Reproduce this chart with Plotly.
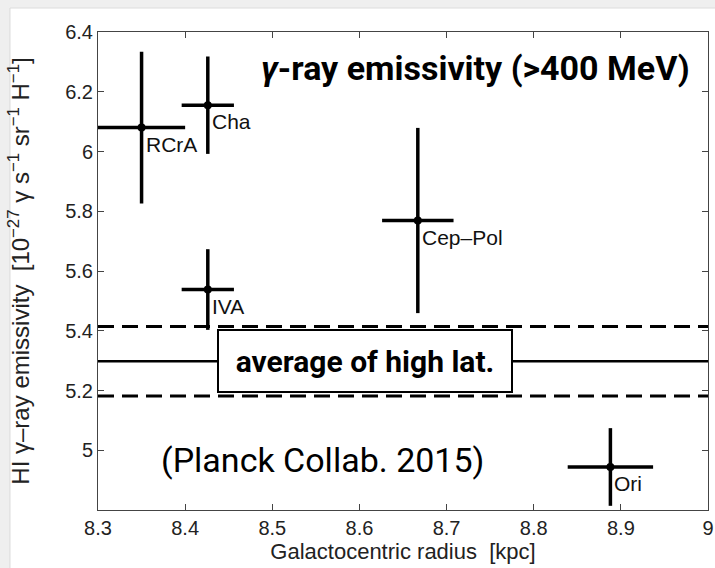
import plotly.graph_objects as go

# data
regions = ["RCrA", "Cha", "IVA", "Cep\u2013Pol", "Ori"]
radius = [8.35, 8.426, 8.426, 8.667, 8.888]
radius_err = [0.05, 0.03, 0.03, 0.041, 0.049]
emissivity = [6.08, 6.155, 5.538, 5.769, 4.944]
emissivity_err = [0.254, 0.163, 0.135, 0.31, 0.13]
avg_high_lat = 5.298
avg_high_lat_err = 0.116
x_range = [8.3, 9.0]
y_range = [4.8, 6.4]
x_ticks = [8.3, 8.4, 8.5, 8.6, 8.7, 8.8, 8.9, 9.0]
x_ticklabels = ["8.3", "8.4", "8.5", "8.6", "8.7", "8.8", "8.9", "9"]
y_ticks = [5.0, 5.2, 5.4, 5.6, 5.8, 6.0, 6.2, 6.4]
y_ticklabels = ["5", "5.2", "5.4", "5.6", "5.8", "6", "6.2", "6.4"]

fig = go.Figure()

# average lines
fig.add_trace(go.Scatter(x=x_range, y=[avg_high_lat] * 2, mode="lines",
                         line=dict(color="black", width=2.5), showlegend=False, hoverinfo="skip"))
for s in (1, -1):
    fig.add_trace(go.Scatter(x=x_range, y=[avg_high_lat + s * avg_high_lat_err] * 2, mode="lines",
                             line=dict(color="black", width=3, dash="16px,8px"), showlegend=False,
                             hoverinfo="skip"))

fig.add_trace(go.Scatter(
    x=radius, y=emissivity, mode="markers",
    marker=dict(color="black", size=8),
    error_x=dict(type="data", array=radius_err, color="black", thickness=3.5, width=0),
    error_y=dict(type="data", array=emissivity_err, color="black", thickness=3.5, width=0),
    showlegend=False,
))

label_font = dict(family="Liberation Sans, Arial", size=21, color="#111")
for name, x, y in zip(regions, radius, emissivity):
    fig.add_annotation(x=x, y=y, text=name, showarrow=False, xanchor="left", yanchor="top",
                       xshift=2, yshift=-3, font=label_font)

fig.add_annotation(x=8.606, y=avg_high_lat, text="<b>average of high lat.</b>", showarrow=False,
                   font=dict(family="Roboto", size=30, color="black"),
                   bgcolor="white", bordercolor="black", borderwidth=2, width=290, height=58,
                   xanchor="center", yanchor="middle")

fig.add_annotation(xref="paper", yref="paper", x=0.974, y=0.925, xanchor="right", yanchor="middle",
                   text="<b><i>\u03b3</i>-ray emissivity (>400 MeV)</b>", showarrow=False,
                   font=dict(family="Roboto", size=34, color="black"))

fig.add_annotation(xref="paper", yref="paper", x=0.1, y=0.105, xanchor="left", yanchor="middle",
                   text="(Planck Collab. 2015)", showarrow=False,
                   font=dict(family="Roboto", size=34, color="black"))

# light shadow around the slide (grey paper, white panel)
fig.add_shape(type="rect", xref="paper", yref="paper", x0=-0.1443, x1=1.03, y0=-0.15, y1=1.0502,
              fillcolor="white", line=dict(width=1, color="#dcdcdc"), layer="below")

axis_common = dict(showgrid=False, zeroline=False, showline=True, linecolor="#444", linewidth=1,
                   mirror="allticks", ticks="inside", ticklen=6, tickcolor="#444",
                   automargin=False, ticklabeloverflow="allow",
                   tickfont=dict(family="Liberation Sans, Arial", size=20, color="#222"))

fig.update_xaxes(range=x_range, tickvals=x_ticks, ticktext=x_ticklabels,
                 title=dict(text="Galactocentric radius  [kpc]", standoff=1,
                            font=dict(family="Liberation Sans, Arial", size=22, color="#222")),
                 **axis_common)
fig.update_yaxes(range=y_range, tickvals=y_ticks, ticktext=y_ticklabels,
                 title=dict(text="HI \u03b3\u2013ray emissivity  [10<sup>\u221227</sup> \u03b3 s<sup>\u22121</sup> sr<sup>\u22121</sup> H<sup>\u22121</sup>]",
                            standoff=28,
                            font=dict(family="Liberation Sans, Arial", size=24, color="#222")),
                 **axis_common)

fig.update_layout(width=715, height=568, margin=dict(l=98, r=7, t=32, b=58),
                  plot_bgcolor="white", paper_bgcolor="#efefef")

fig.write_html("out.html", config={"displayModeBar": False},
               post_script="document.body.style.margin='0';")
